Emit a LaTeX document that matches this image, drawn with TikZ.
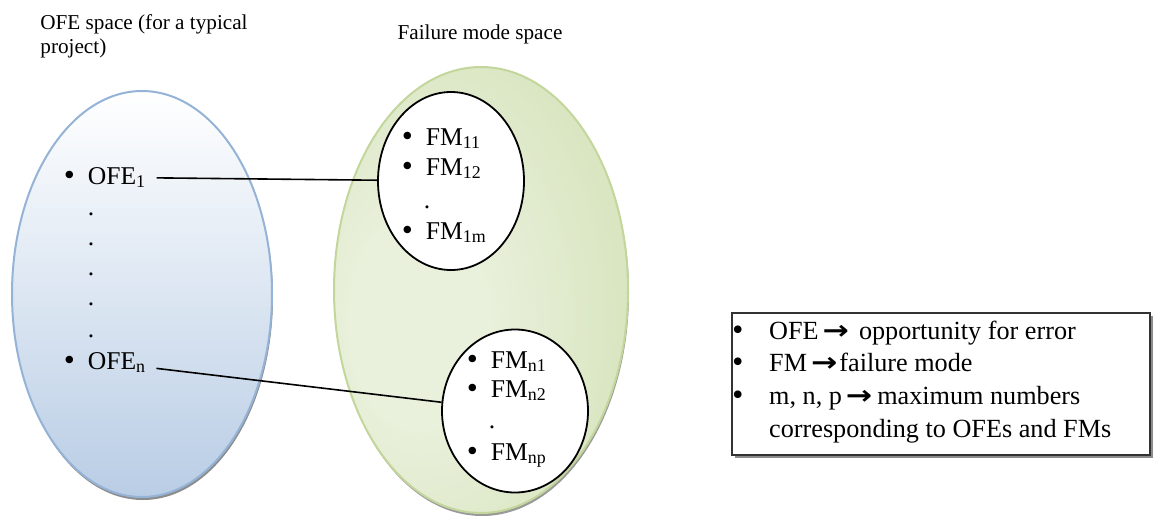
\documentclass[tikz,border=0pt]{standalone}
\usepackage{fontspec}
\usepackage{graphicx}
\setmainfont{Liberation Serif}
\newfontfamily\dejavu{DejaVu Sans}
\usetikzlibrary{shapes.geometric,shadows,positioning}
\definecolor{ofeblue}{HTML}{B9CDE5}
\definecolor{ofeline}{HTML}{95B3D7}
\definecolor{fmlight}{HTML}{E9F0DB}
\definecolor{fmdark}{HTML}{C3D79C}
\definecolor{fmline}{HTML}{C3D69B}
\pgfdeclareradialshading{fmshade}{\pgfpoint{-12bp}{-4bp}}{%
  color(0bp)=(fmlight); color(12bp)=(fmlight); color(62bp)=(fmdark); color(100bp)=(fmdark)}
\newcommand{\blob}{\makebox[4.4pt][c]{\dejavu •}}
\newcommand{\bul}{\blob\hspace{7pt}}
\newcommand{\rarr}{\scalebox{1.2}[1]{\dejavu\bfseries →}}

\begin{document}
\begin{tikzpicture}[x=0.5pt,y=-0.5pt,
  setblob/.style={ellipse, inner sep=0pt, line width=1pt},
  subset/.style={ellipse, draw=black, fill=white, line width=0.9pt, inner sep=0pt, minimum width=73pt},
  item/.style={anchor=base west, inner sep=0pt, font=\fontsize{12.8}{15}\selectfont},
  vdot/.style={anchor=base, inner sep=0pt, font=\fontsize{12.8}{15}\selectfont},
  title/.style={inner sep=0pt, font=\fontsize{10.6}{12}\selectfont}
]
\useasboundingbox (0,0) rectangle (1157,525);

% the two spaces
\node[setblob, draw=ofeline, top color=white, bottom color=ofeblue,
  minimum width=130pt, minimum height=203pt,
  drop shadow={shadow xshift=0.5pt, shadow yshift=-1.5pt, fill=black!45, opacity=1}]
  (ofespace) at (142,294) {};
\node[setblob, draw=fmline, shading=fmshade,
  minimum width=147pt, minimum height=223pt,
  drop shadow={shadow xshift=0.5pt, shadow yshift=-1.5pt, fill=black!40, opacity=1}]
  (fmspace) at (481,290) {};

\node[title, anchor=north west, align=left] (ofetitle) at (40,14) {OFE space (for a typical\\project)};
\node[title, anchor=base] (fmtitle) at (480,39) {Failure mode space};

% failure mode subsets
\node[subset, minimum height=89pt] (fm1) at (451,181) {};
\node[subset, minimum height=81.5pt] (fmn) at (515,411) {};

% OFE items
\node[item] (ofe1) at (64.6,184) {\bul OFE\textsubscript{1}};
\foreach \y [count=\i] in {215,245,275,305,337}
  \node[vdot] (d\i) at (91,\y) {.};
\node[item] (ofen) at (64.6,369) {\bul OFE\textsubscript{n}};

% FM items
\node[item] (fm11) at (402.6,145) {\bul FM\textsubscript{11}};
\node[item] (fm12) at (402.6,175) {\bul FM\textsubscript{12}};
\node[vdot] (fmd1) at (427,208) {.};
\node[item] (fm1m) at (402.6,239) {\bul FM\textsubscript{1m}};

\node[item] (fmn1) at (467.6,368) {\bul FM\textsubscript{n1}};
\node[item] (fmn2) at (467.6,397) {\bul FM\textsubscript{n2}};
\node[vdot] (fmd2) at (492,428) {.};
\node[item] (fmnp) at (467.6,460) {\bul FM\textsubscript{np}};

% links
\draw[line width=0.8pt, shorten <=5pt] (ofe1) -- (fm1);
\draw[line width=0.8pt, shorten <=5pt] (ofen) -- (fmn);

% legend
\node[draw=black!80, fill=white, line width=0.6pt, minimum width=209pt, minimum height=71pt,
  drop shadow={shadow xshift=1.5pt, shadow yshift=-1.5pt, fill=black!45, opacity=1}]
  (legend) at (941,384) {};
\node[anchor=north west, inner sep=0pt, font=\fontsize{13.1}{16.3}\selectfont] (legtxt) at (733,316) {%
  \begin{tabular}{@{}l@{\hspace{13.5pt}}l@{}}
  \blob & OFE\hspace{2pt}\rarr\hspace{5pt}opportunity for error\\
  \blob & FM\hspace{2pt}\rarr\hspace{1pt}failure mode\\
  \blob & m, n, p\hspace{2pt}\rarr\hspace{2.5pt}maximum numbers\\
        & corresponding to OFEs and FMs
  \end{tabular}};
\end{tikzpicture}
\end{document}
